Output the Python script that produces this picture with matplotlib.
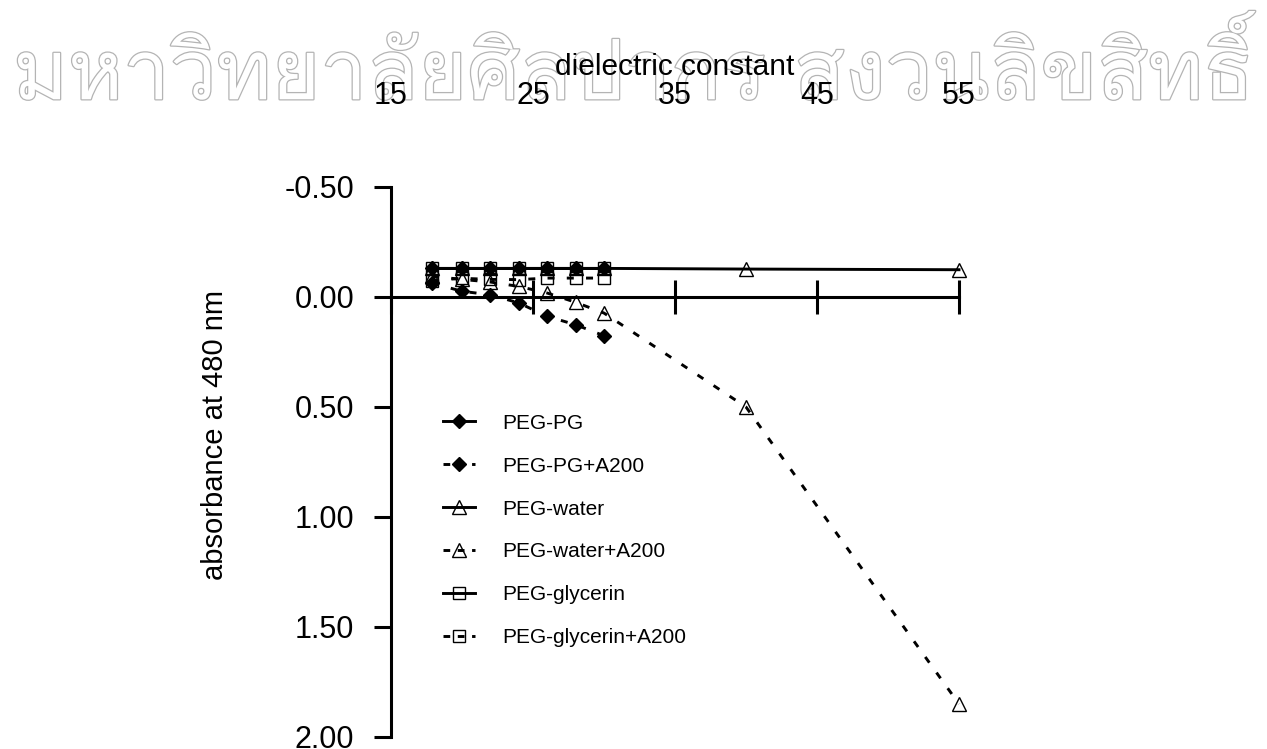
import matplotlib
matplotlib.use("Agg")
import matplotlib.pyplot as plt
import matplotlib.patheffects as pe
from matplotlib import font_manager, ft2font

# ---- data -------------------------------------------------------------
dielectric = [17.9, 20.0, 22.0, 24.0, 26.0, 28.0, 30.0]
dielectric_water = [17.9, 20.0, 22.0, 24.0, 26.0, 28.0, 30.0, 40.0, 55.0]

peg_pg = [-0.13, -0.13, -0.13, -0.13, -0.13, -0.13, -0.13]
peg_pg_a200 = [-0.063, -0.026, -0.010, 0.027, 0.088, 0.126, 0.176]
peg_water = [-0.13, -0.13, -0.13, -0.13, -0.13, -0.13, -0.13, -0.127, -0.124]
peg_water_a200 = [-0.094, -0.080, -0.068, -0.048, -0.018, 0.024, 0.073, 0.50, 1.85]
peg_glycerin = [-0.133, -0.133, -0.133, -0.133, -0.133, -0.133, -0.133]
peg_glycerin_a200 = [-0.075, -0.085, -0.080, -0.079, -0.086, -0.086, -0.086]

series_labels = ["PEG-PG", "PEG-PG+A200", "PEG-water", "PEG-water+A200",
                 "PEG-glycerin", "PEG-glycerin+A200"]
x_ticks = [15, 25, 35, 45, 55]
y_ticks = [-0.5, 0.0, 0.5, 1.0, 1.5, 2.0]
watermark = "มหาวิทยาลัยศิลปากร สงวนลิขสิทธิ์"

# ---- fonts ------------------------------------------------------------
plt.rcParams["font.family"] = ["Liberation Sans", "DejaVu Sans"]


def family_covering(ch):
    for f in font_manager.fontManager.ttflist:
        try:
            if ord(ch) in ft2font.FT2Font(f.fname).get_charmap():
                return f.name
        except Exception:
            continue
    return None


thai_family = family_covering("ม")

# ---- figure -----------------------------------------------------------
W, H = 1267, 749
fig = plt.figure(figsize=(W / 100, H / 100), dpi=100)
ax = fig.add_axes([391 / W, 12 / H, 568 / W, 550 / H])
ax.set_xlim(15, 55)
ax.set_ylim(2.0, -0.5)

LW = 2.1
dash = (0, (2.4, 4.2))
common = dict(color="black", lw=LW, clip_on=False, zorder=3)
diamond = dict(marker="D", ms=6.8, mfc="black", mec="black")
triangle = dict(marker="^", ms=9.5, mfc="none", mec="black", mew=1.0)
square = dict(marker="s", ms=9.0, mfc="none", mec="black", mew=1.0)

ax.plot(dielectric, peg_pg, label=series_labels[0], **diamond, **common)
ax.plot(dielectric, peg_pg_a200, ls=dash, label=series_labels[1], **diamond, **common)
ax.plot(dielectric_water, peg_water, label=series_labels[2], **triangle, **common)
ax.plot(dielectric_water, peg_water_a200, ls=dash, label=series_labels[3],
        **triangle, **common)
ax.plot(dielectric, peg_glycerin, label=series_labels[4], **square, **common)
ax.plot(dielectric, peg_glycerin_a200, ls=dash, label=series_labels[5],
        **square, **common)

# ---- axes styling -----------------------------------------------------
for side in ("top", "right"):
    ax.spines[side].set_visible(False)
ax.spines["left"].set_linewidth(2.2)
ax.spines["bottom"].set_linewidth(2.2)
ax.spines["bottom"].set_position(("data", 0.0))

ax.set_yticks(y_ticks)
ax.set_yticklabels([f"{v:.2f}" for v in y_ticks])
ax.tick_params(axis="y", direction="out", length=12.5, width=2.2, pad=14,
               labelsize=22)
ax.set_xticks(x_ticks)
ax.tick_params(axis="x", direction="inout", length=24.5, width=2.2,
               labelbottom=False)

top = ax.secondary_xaxis("top")
top.set_xticks(x_ticks)
top.set_xticklabels([str(v) for v in x_ticks])
top.spines["top"].set_visible(False)
top.tick_params(axis="x", length=0, pad=55, labelsize=22)
top.set_xlabel("dielectric constant", fontsize=21.5, labelpad=4)

ax.set_ylabel("absorbance at 480 nm", fontsize=21, va="center")
ax.yaxis.set_label_coords(-0.31, 0.55)

leg = ax.legend(loc="upper left", bbox_to_anchor=(0.0915, 0.588), frameon=False,
                fontsize=15, handlelength=1.55, handletextpad=1.3,
                labelspacing=1.15, borderpad=0, borderaxespad=0)
for line in leg.get_lines():
    if line.get_linestyle() not in ("-", "solid"):
        line.set_linestyle((0, (2.3, 2.6)))

# ---- outlined watermark across the top ---------------------------------
if thai_family is not None:
    fig.text(0.5, 1 - 72 / H, watermark, ha="center", va="center",
             fontsize=60, family=[thai_family], color="white", zorder=-1,
             path_effects=[pe.withStroke(linewidth=1.8, foreground="#b4b4b4")])

fig.savefig("out.png", dpi=100)
